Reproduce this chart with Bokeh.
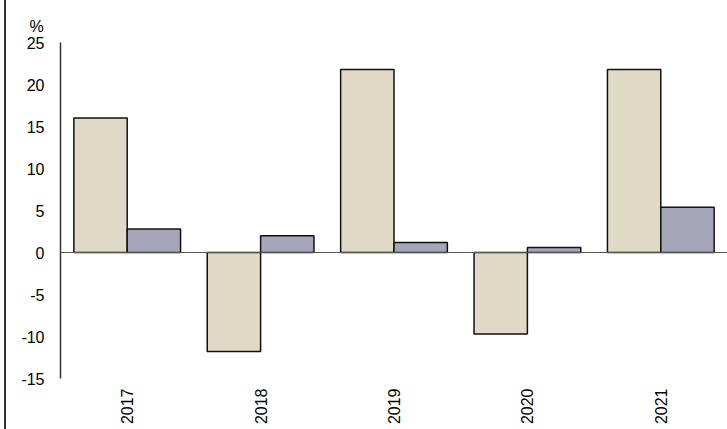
from bokeh.plotting import figure
from bokeh.models import FactorRange, ColumnDataSource, Span, FixedTicker, Title, Div, Spacer
from bokeh.layouts import row
from bokeh.transform import dodge
from bokeh.embed import file_html
from bokeh.resources import INLINE
from math import pi

years = ["2017", "2018", "2019", "2020", "2021"]
series_a = [16.0, -11.8, 21.8, -9.7, 21.8]
series_b = [2.8, 2.0, 1.2, 0.6, 5.4]
y_ticks = [-15, -10, -5, 0, 5, 10, 15, 20, 25]

src = ColumnDataSource(dict(year=years, a=series_a, b=series_b))

p = figure(x_range=FactorRange(*years, range_padding=0), y_range=(-15, 25),
           width=721, height=429, output_backend="svg", toolbar_location=None,
           min_border_left=54, min_border_top=42, min_border_right=0, min_border_bottom=51)
p.x_range.range_padding = 0
p.outline_line_color = None
p.grid.visible = False
p.background_fill_color = "white"
p.border_fill_color = "white"

p.vbar(x=dodge("year", -0.2, range=p.x_range), top="a", bottom=0, width=0.4, source=src,
       fill_color="#DFD9C6", line_color="#111111", line_width=1.5)
p.vbar(x=dodge("year", 0.2, range=p.x_range), top="b", bottom=0, width=0.4, source=src,
       fill_color="#A6A6BB", line_color="#111111", line_width=1.5)

p.add_layout(Span(location=0, dimension="width", line_color="#555555", line_width=1.2))

ya = p.yaxis[0]
ya.ticker = FixedTicker(ticks=y_ticks)
ya.major_label_overrides = {t: str(t) for t in y_ticks}
ya.axis_line_color = "#333333"
ya.axis_line_width = 1.5
ya.major_tick_line_color = None
ya.minor_tick_line_color = None
ya.major_tick_out = 0
ya.major_tick_in = 0
ya.major_label_standoff = 16
ya.major_label_text_font = "Liberation Sans"
ya.major_label_text_font_size = "16px"
ya.major_label_text_color = "black"

xa = p.xaxis[0]
xa.axis_line_color = None
xa.major_tick_line_color = None
xa.minor_tick_line_color = None
xa.major_tick_out = 0
xa.major_tick_in = 0
xa.major_label_orientation = pi / 2
xa.major_label_standoff = 10
xa.major_label_text_font = "Liberation Sans"
xa.major_label_text_font_size = "16px"
xa.major_label_text_color = "black"

p.add_layout(Title(text="%", align="left", offset=-31, standoff=15,
                   text_font="Liberation Sans", text_font_size="16px",
                   text_font_style="normal", text_color="black"), "above")

left_gap = Spacer(width=4, height=429, margin=0)
left_rule = Div(text="", width=2, height=429, margin=0,
                styles={"background-color": "#333333"})

layout = row(left_gap, left_rule, p, spacing=0)

open("out.html", "w").write(file_html(layout, INLINE))
